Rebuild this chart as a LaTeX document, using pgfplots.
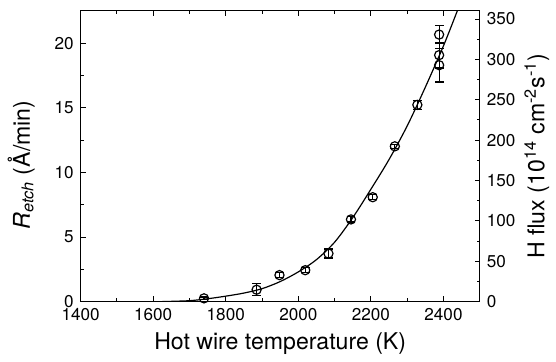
\documentclass[border=0pt]{standalone}
\usepackage{pgfplots}
\pgfplotsset{compat=1.18}
\usepackage{fontspec}
\setmainfont{TeX Gyre Heros}
\begin{document}
\begin{tikzpicture}
\begin{axis}[
  scale only axis, width=200.5pt, height=146pt,
  xmin=1400, xmax=2500, ymin=0, ymax=22.5,
  xtick={1400,1600,...,2400}, minor xtick={1500,1700,...,2500},
  ytick={0,5,...,20}, minor ytick={2.5,7.5,...,22.5},
  xtick pos=both, ytick pos=left,
  tick align=inside,
  major tick length=2.6pt, minor tick length=1.6pt,
  axis line style={line width=0.5pt}, every tick/.style={line width=0.5pt, black},
  tick label style={font=\fontsize{8.6}{10}\selectfont},
  /pgf/number format/assume math mode=true,
  /pgf/number format/set thousands separator={},
  label style={font=\fontsize{11.6}{13}\selectfont},
  xlabel={Hot wire temperature (K)},
  xlabel style={at={(axis description cs:0.5,0)}, anchor=base, yshift=-24pt},
  ylabel={\textit{R}\textsubscript{\textit{etch}} (Å/min)},
  ylabel style={at={([xshift=-25.5pt]axis description cs:0,0.47)}, anchor=base, rotate=0},
]
\addplot[black, line width=0.6pt, smooth, no marks] coordinates {
(1625,0) (1700,0.07) (1750,0.22) (1800,0.42) (1850,0.66) (1900,1.0) (1950,1.55) (2000,2.3) (2050,3.25) (2100,4.6) (2150,6.5) (2200,8.7) (2250,11.0) (2300,13.6) (2350,16.6) (2400,19.8) (2438,22.5) (2450,23.4)
};
\addplot[black, only marks, mark=o, mark size=2.3pt, mark options={line width=0.6pt},
  error bars/.cd, y dir=both, y explicit,
  error bar style={line width=0.6pt},
  error mark options={rotate=90, mark size=2.2pt, line width=0.6pt}]
coordinates {
(1740,0.25) +- (0,0.1)
(1885,0.92) +- (0,0.45)
(1948,2.05) +- (0,0.2)
(2019,2.43) +- (0,0.2)
(2083,3.72) +- (0,0.35)
(2145,6.36) +- (0,0.2)
(2205,8.08) +- (0,0.2)
(2266,12.02) +- (0,0.15)
(2328,15.23) +- (0,0.35)
(2388,20.67) +- (0,0.7)
(2388,19.08) +- (0,1.0)
(2388,18.3) +- (0,1.3)
};
\end{axis}
\begin{axis}[
  scale only axis, width=200.5pt, height=146pt,
  xmin=1400, xmax=2500, ymin=0, ymax=360,
  axis x line=none, axis y line*=right,
  ytick={0,50,...,350}, minor ytick={25,75,...,325},
  tick align=inside,
  major tick length=2.6pt, minor tick length=1.6pt,
  axis line style={line width=0.5pt, -}, every tick/.style={line width=0.5pt, black},
  tick label style={font=\fontsize{8.6}{10}\selectfont},
  /pgf/number format/assume math mode=true,
  label style={font=\fontsize{11.6}{13}\selectfont},
  ylabel={H flux (10\textsuperscript{14} cm\textsuperscript{-2}s\textsuperscript{-1})},
  ylabel style={at={([xshift=32.5pt]axis description cs:1,0.5)}, anchor=base, rotate=0},
]
\end{axis}
\path (-40.5pt,-27.5pt) rectangle (237.5pt,151.5pt);
\end{tikzpicture}
\end{document}
